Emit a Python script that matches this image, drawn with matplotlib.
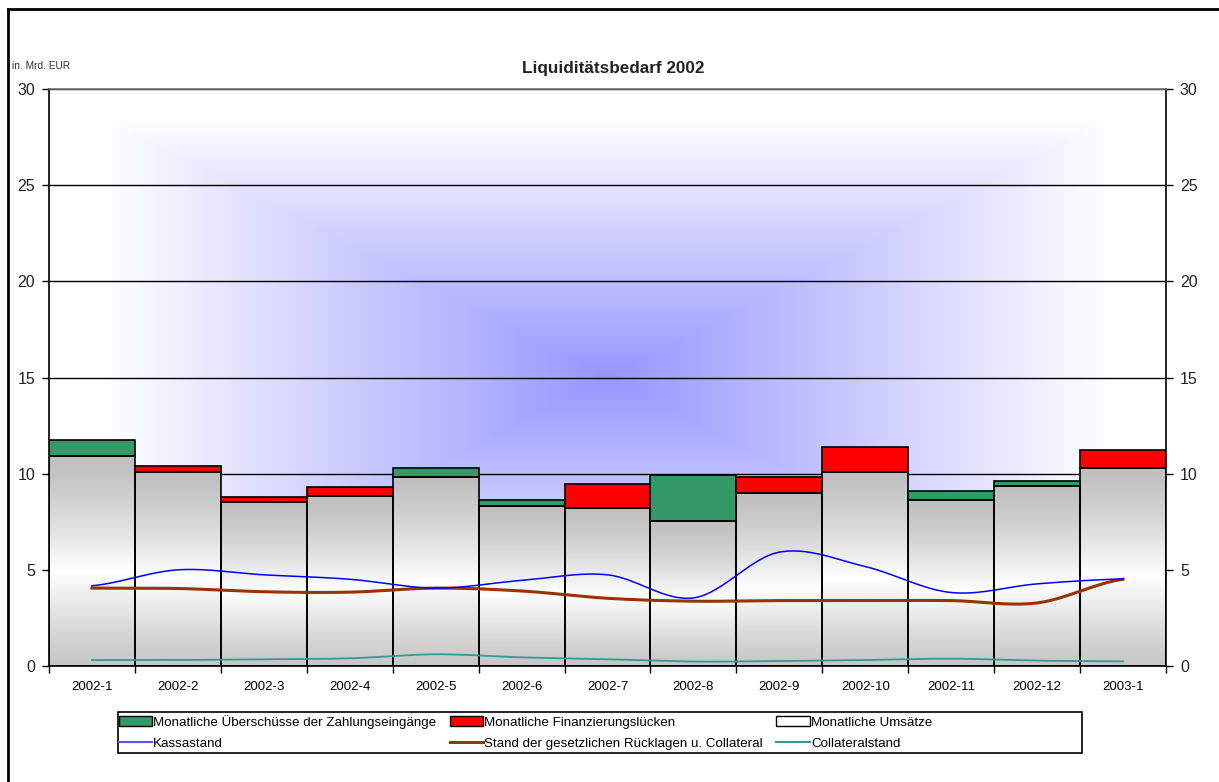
import numpy as np
import matplotlib
matplotlib.use("Agg")
import matplotlib.pyplot as plt
from matplotlib.patches import Patch, Rectangle
from matplotlib.lines import Line2D

plt.rcParams['font.family'] = ['Liberation Sans', 'DejaVu Sans']

months = ["2002-1", "2002-2", "2002-3", "2002-4", "2002-5", "2002-6", "2002-7",
          "2002-8", "2002-9", "2002-10", "2002-11", "2002-12", "2003-1"]

# Monatliche Umsaetze (grey base)
umsaetze = [10.90, 10.07, 8.52, 8.82, 9.83, 8.30, 8.21, 7.52, 8.98, 10.07, 8.61, 9.38, 10.30]
# Monatliche Ueberschuesse (green, on top)
ueberschuss = [0.87, 0, 0, 0, 0.47, 0.33, 0, 2.43, 0, 0, 0.49, 0.24, 0]
# Monatliche Finanzierungsluecken (red, on top)
luecken = [0, 0.31, 0.25, 0.49, 0, 0, 1.25, 0, 0.86, 1.30, 0, 0, 0.92]

kassastand = [4.17, 5.00, 4.74, 4.51, 4.05, 4.45, 4.74, 3.54, 5.92, 5.17, 3.82, 4.27, 4.53]
ruecklagen = [4.05, 4.03, 3.86, 3.84, 4.05, 3.90, 3.52, 3.37, 3.40, 3.40, 3.40, 3.28, 4.51]
collateral = [0.31, 0.31, 0.35, 0.40, 0.61, 0.45, 0.35, 0.23, 0.26, 0.31, 0.38, 0.28, 0.24]

yticks = [0, 5, 10, 15, 20, 25, 30]


def smooth(y, steps=30):
    # catmull-rom curve through the points, like excel's smoothed lines
    y = np.asarray(y, dtype=float)
    n = len(y)
    p = np.concatenate([[y[0]], y, [y[-1]]])
    xs, ys = [], []
    for i in range(n - 1):
        p0, p1, p2, p3 = p[i], p[i + 1], p[i + 2], p[i + 3]
        m1 = (p2 - p0) / 2
        m2 = (p3 - p1) / 2
        t = np.linspace(0, 1, steps, endpoint=False)
        h00 = 2 * t**3 - 3 * t**2 + 1
        h10 = t**3 - 2 * t**2 + t
        h01 = -2 * t**3 + 3 * t**2
        h11 = t**3 - t**2
        xs.append(i + t)
        ys.append(h00 * p1 + h10 * m1 + h01 * p2 + h11 * m2)
    xs.append([n - 1])
    ys.append([y[-1]])
    return np.concatenate(xs), np.concatenate(ys)


fig = plt.figure(figsize=(12.19, 7.82), dpi=100)
ax = fig.add_axes([49 / 1219, 1 - 666 / 782, 1117 / 1219, 577 / 782])

x = np.arange(len(months))
xlo, xhi = -0.5, len(months) - 0.5

# background: rectangular gradient, blue in the middle, white at the edges
gx = np.linspace(-1, 1, 400)
gy = np.linspace(-1, 1, 300)
GX, GY = np.meshgrid(gx, gy)
t = np.clip(np.maximum(np.abs(GX), np.abs(GY)) / 0.9, 0, 1)
center = np.array([150, 150, 255]) / 255.0
bg = center[None, None, :] * (1 - t[..., None]) + 1.0 * t[..., None]
ax.imshow(bg, extent=(xlo, xhi, 0, 30), aspect='auto', zorder=0, interpolation='bilinear')

# grey bars with vertical grey-white-grey gradient
grey = ax.bar(x, umsaetze, width=1.0, color='none', edgecolor='black', linewidth=1.2, zorder=2)
gv = np.linspace(0, 1, 200)
shade = 0.75 + 0.25 * (1 - np.abs(gv - 0.55) / 0.55) ** 1.3
grad = np.dstack([shade, shade, shade])[0][:, None, :]
for r in grey:
    im = ax.imshow(grad, extent=(r.get_x(), r.get_x() + r.get_width(), 0, r.get_height()),
                   aspect='auto', zorder=1.5, interpolation='bilinear')
    im.set_clip_path(r)

ax.bar(x, ueberschuss, bottom=umsaetze, width=1.0, color='#339966', edgecolor='black',
       linewidth=1.2, zorder=2)
ax.bar(x, luecken, bottom=umsaetze, width=1.0, color='#ff0000', edgecolor='black',
       linewidth=1.2, zorder=2)

sx, sy = smooth(collateral)
ax.plot(sx, sy, color='#339999', lw=1.3, zorder=3)
sx, sy = smooth(ruecklagen)
ax.plot(sx, sy, color='#993300', lw=2.2, zorder=3)
sx, sy = smooth(kassastand)
ax.plot(sx, sy, color='#0000ff', lw=1.1, zorder=3.1)

ax.set_xlim(xlo, xhi)
ax.set_ylim(0, 30)
ax.set_yticks(yticks)
ax.yaxis.grid(True, color='black', lw=1)
ax.set_axisbelow(True)
for g in ax.get_ygridlines():
    g.set_zorder(0.8)

ax.set_xticks(x)
ax.set_xticklabels(months, fontsize=9.5)
ax.set_xticks(np.arange(xlo, xhi + 0.01, 1), minor=True)
ax.tick_params(axis='x', which='major', length=0, pad=11)
ax.tick_params(axis='x', which='minor', length=5, width=1, direction='out', color='black')
ax.tick_params(axis='y', which='major', length=5, width=1, direction='out', labelsize=11.5,
               right=True, labelright=True, pad=5, labelcolor='#222222')
for sp in ['left', 'right', 'bottom']:
    ax.spines[sp].set_color('black')
    ax.spines[sp].set_linewidth(1.2)
ax.spines['top'].set_color('#707070')
ax.spines['top'].set_linewidth(1.2)

fig.text(613 / 1219, 1 - 68 / 782, "Liquiditätsbedarf 2002", ha='center', va='center',
         fontsize=12.3, fontweight='bold', color='#222222')
fig.text(12 / 1219, 1 - 66 / 782, "in. Mrd. EUR", ha='left', va='center',
         fontsize=7.3, color='#333333')

# legend
handles = [
    Patch(facecolor='#339966', edgecolor='black', lw=1),
    Line2D([], [], color='#5555ff', lw=1.5),
    Patch(facecolor='#ff0000', edgecolor='black', lw=1),
    Line2D([], [], color='#993300', lw=2.2),
    Patch(facecolor='white', edgecolor='black', lw=1),
    Line2D([], [], color='#339999', lw=1.5),
]
labels = [
    "Monatliche Überschüsse der Zahlungseingänge",
    "Kassastand",
    "Monatliche Finanzierungslücken",
    "Stand der gesetzlichen Rücklagen u. Collateral",
    "Monatliche Umsätze",
    "Collateralstand",
]
fig.legend(handles, labels, ncol=3, loc='upper left',
           bbox_to_anchor=(116 / 1219, 1 - 712 / 782), frameon=False, fontsize=9.6,
           handlelength=2.5, handleheight=0.8, handletextpad=0.1, columnspacing=1.0,
           labelspacing=0.65, borderaxespad=0, borderpad=0.2)
fig.add_artist(Rectangle((118 / 1219, 1 - 753 / 782), (1082 - 118) / 1219, 41 / 782,
                         transform=fig.transFigure, fill=False, edgecolor='black', lw=1.2))

# outer chart frame (left and top visible)
fig.add_artist(Line2D([8 / 1219, 8 / 1219], [0, 1 - 9 / 782], transform=fig.transFigure,
                      color='black', lw=2))
fig.add_artist(Line2D([8 / 1219, 1], [1 - 9 / 782, 1 - 9 / 782], transform=fig.transFigure,
                      color='black', lw=2))

fig.savefig("out.png", dpi=100)
